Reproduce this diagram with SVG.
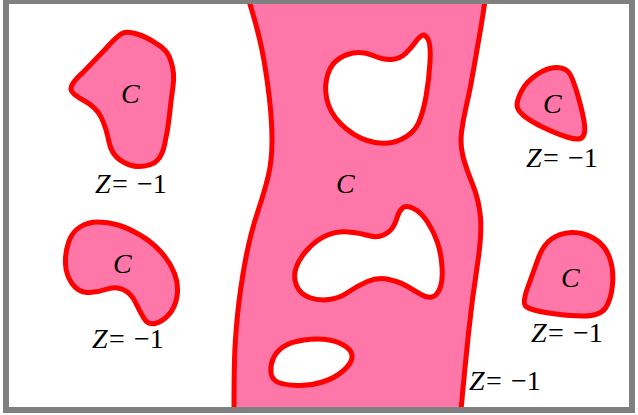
<svg xmlns="http://www.w3.org/2000/svg" width="638" height="415" viewBox="0 0 638 415">
<style>
.reg{fill:#FF77A8;stroke:#FF0000;stroke-width:5;stroke-linejoin:round}
.hole{fill:#FFFFFF;stroke:#FF0000;stroke-width:5;stroke-linejoin:round}
text{font-family:"Liberation Serif","Times New Roman",serif;fill:#000}
.cal{font-style:italic;font-size:28px}
.lbl{font-size:28px}
.it{font-style:italic}
</style>
<rect x="0" y="0" width="638" height="415" fill="#FFFFFF"/>
<g id="band">
<path class="reg" d="M249,1 Q258,30 262,50 Q266,70 269,95 Q272,120 272,140 Q272,160 268.5,175 Q265,190 257.5,212.5 Q250,235 245,262.5 Q240,290 237.5,315 Q235,340 234.5,360 Q234,380 234,410 L461,410 Q465,367 468.5,333.5 Q472,300 477,267.5 Q482,235 480.5,217.5 Q479,200 472.5,184 Q466,168 463,156.5 Q460,145 461.5,132.5 Q463,120 466.5,105 Q470,90 473.5,70 Q477,50 480,32.5 Q483,15 485,1 Z"/>
<path class="hole" d="M428,39 Q431,44 430,62 Q429,80 426,96.5 Q423,113 418.5,123 Q414,133 402,139 Q390,145 375,142.5 Q360,140 346.5,129 Q333,118 328.5,105 Q324,92 326.5,79.5 Q329,67 336,61 Q343,55 353,53 Q363,51 373,55.5 Q383,60 391.5,59.5 Q400,59 406,53 Q412,47 415.5,42 Q419,37 422,35.5 Q425,34 428,39 Z"/>
<path class="hole" d="M413.5,208.5 Q421,212 427.5,222 Q434,232 437.5,242.5 Q441,253 442,266.5 Q443,280 440,288 Q437,296 432,297 Q427,298 421,294.5 Q415,291 407.5,286.5 Q400,282 389,279.5 Q378,277 367.5,281.5 Q357,286 348.5,292 Q340,298 329.5,299.5 Q319,301 309.5,297.5 Q300,294 296.5,285.5 Q293,277 296,268 Q299,259 307.5,249.5 Q316,240 326.5,235.5 Q337,231 348.5,232 Q360,233 368.5,235.5 Q377,238 383.5,235 Q390,232 393,227 Q396,222 397.5,216.5 Q399,211 402.5,208 Q406,205 413.5,208.5 Z"/>
<path class="hole" d="M273,359 Q276,352 283,347 Q290,342 304,340 Q318,338 329,340 Q340,342 346.5,347 Q353,352 352,358 Q351,364 343,371 Q335,378 322.5,382 Q310,386 297.5,385.5 Q285,385 278.5,382.5 Q272,380 271,373 Q270,366 273,359 Z"/>
<text class="cal" x="336" y="193">C</text>
<text class="lbl" x="469" y="390"><tspan class="it">Z</tspan><tspan x="486">=</tspan><tspan x="511">−1</tspan></text>
</g>
<g id="blobA">
<path class="reg" d="M137,34 Q147,37 157,44 Q168,50 171,61.5 Q175,73 173,86.5 Q171,100 169.5,115 Q168,130 164.5,145 Q161,162 149,165 Q137,169 125,163 Q112,157 109,142 Q106,127 101,117 Q96,107 83,100 Q70,93 71,88 Q72,82 83,72.5 Q93,62 105,49.5 Q117,36 122,33.5 Q127,31 137,34 Z"/>
<text class="cal" x="121" y="103">C</text>
<text class="lbl" x="95" y="193"><tspan class="it">Z</tspan><tspan x="112">=</tspan><tspan x="137">−1</tspan></text>
</g>
<g id="blobB">
<path class="reg" d="M68.5,242.5 Q72,232 80,227 Q88,222 98,222 Q108,222 118,225 Q128,228 140,235 Q152,242 161,252 Q170,262 174.5,273.5 Q179,285 177,296.5 Q175,308 168.5,315 Q162,322 155,323.5 Q148,325 144,318.5 Q140,312 135.5,302.5 Q131,293 123,289.5 Q115,286 105.5,289.5 Q96,293 87,292.5 Q78,292 72,283.5 Q66,275 65.5,264 Q65,253 68.5,242.5 Z"/>
<text class="cal" x="113" y="273">C</text>
<text class="lbl" x="92" y="348"><tspan class="it">Z</tspan><tspan x="109">=</tspan><tspan x="134">−1</tspan></text>
</g>
<g id="blobC">
<path class="reg" d="M521.5,91 Q526,82 537,74.5 Q548,67 557.5,67.5 Q567,68 570.5,75 Q574,82 578,96 Q582,110 584,121 Q586,132 583,136.5 Q580,141 568.5,137.5 Q557,134 543.5,127.5 Q530,121 523.5,115.5 Q517,110 517,105 Q517,100 521.5,91 Z"/>
<text class="cal" x="543" y="113">C</text>
<text class="lbl" x="526" y="167"><tspan class="it">Z</tspan><tspan x="543">=</tspan><tspan x="568">−1</tspan></text>
</g>
<g id="blobD">
<path class="reg" d="M527.5,288 Q533,273 538,259 Q543,245 551.5,239 Q560,233 571.5,232.5 Q583,232 594,238.5 Q605,245 609.5,257.5 Q614,270 612.5,285 Q611,300 605.5,308 Q600,316 583.5,316 Q567,316 548.5,313 Q530,310 526,306.5 Q522,303 527.5,288 Z"/>
<text class="cal" x="561" y="287">C</text>
<text class="lbl" x="531" y="342"><tspan class="it">Z</tspan><tspan x="548">=</tspan><tspan x="573">−1</tspan></text>
</g>
<rect id="frame" x="6" y="1" width="626" height="409" fill="none" stroke="#808080" stroke-width="6"/>
</svg>
